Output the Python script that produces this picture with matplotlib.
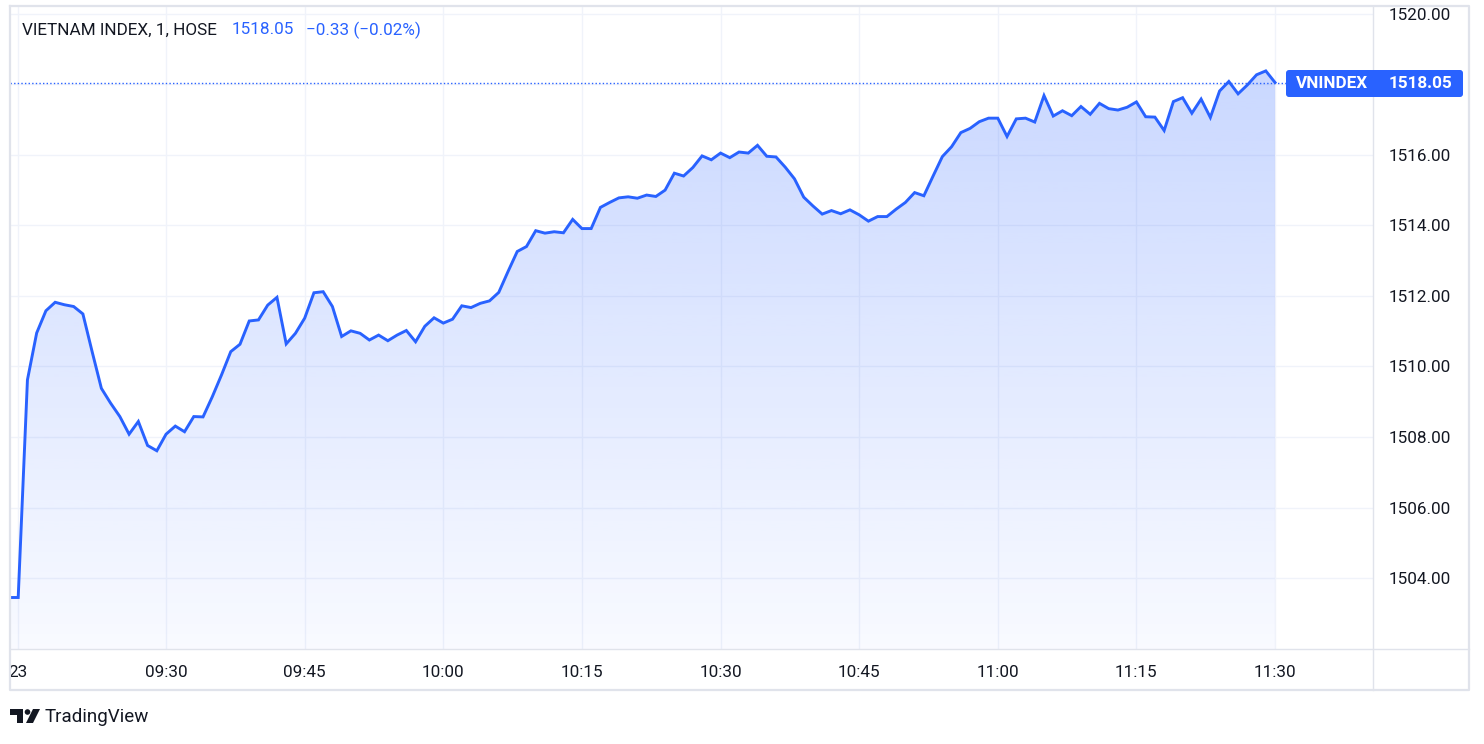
import numpy as np
import matplotlib
matplotlib.use("Agg")
import matplotlib.pyplot as plt
from matplotlib.patches import Polygon, FancyBboxPatch, Circle
from matplotlib.lines import Line2D
from matplotlib.transforms import Affine2D

# ---------------- data ----------------
symbol = "VNINDEX"
title_text = "VIETNAM INDEX, 1, HOSE"
last_price = 1518.05
change_text = "\u22120.33 (\u22120.02%)"
prev_close = 1503.45

# one bar for the opening auction (09:00) then 1-minute bars 09:15 .. 11:30
bar_times = ["09:00"] + [f"{9 + (15 + k) // 60:02d}:{(15 + k) % 60:02d}" for k in range(136)]

prices = [
    1503.45, 1509.62, 1510.95, 1511.58, 1511.82, 1511.75, 1511.70, 1511.49, 1510.42, 1509.38,
    1508.96, 1508.58, 1508.08, 1508.44, 1507.76, 1507.61, 1508.08, 1508.31, 1508.15, 1508.58,
    1508.57, 1509.14, 1509.76, 1510.42, 1510.63, 1511.29, 1511.32, 1511.74, 1511.96, 1510.64,
    1510.94, 1511.37, 1512.09, 1512.12, 1511.70, 1510.85, 1511.01, 1510.94, 1510.75, 1510.89,
    1510.73, 1510.89, 1511.02, 1510.70, 1511.14, 1511.38, 1511.23, 1511.34, 1511.72, 1511.67,
    1511.79, 1511.86, 1512.10, 1512.69, 1513.26, 1513.40, 1513.85, 1513.78, 1513.82, 1513.79,
    1514.17, 1513.91, 1513.91, 1514.51, 1514.65, 1514.78, 1514.81, 1514.77, 1514.86, 1514.82,
    1515.00, 1515.48, 1515.40, 1515.64, 1515.97, 1515.86, 1516.05, 1515.92, 1516.08, 1516.05,
    1516.27, 1515.96, 1515.94, 1515.65, 1515.32, 1514.80, 1514.55, 1514.32, 1514.42, 1514.33,
    1514.44, 1514.30, 1514.12, 1514.25, 1514.25, 1514.46, 1514.65, 1514.93, 1514.84, 1515.40,
    1515.95, 1516.23, 1516.63, 1516.75, 1516.94, 1517.04, 1517.04, 1516.52, 1517.02, 1517.04,
    1516.93, 1517.68, 1517.10, 1517.25, 1517.11, 1517.37, 1517.15, 1517.46, 1517.31, 1517.27,
    1517.35, 1517.50, 1517.08, 1517.07, 1516.69, 1517.51, 1517.62, 1517.18, 1517.58, 1517.06,
    1517.81, 1518.08, 1517.73, 1517.98, 1518.27, 1518.38, 1518.05,
]

time_tick_labels = ["23", "09:30", "09:45", "10:00", "10:15", "10:30", "10:45", "11:00", "11:15", "11:30"]
price_ticks = [1504, 1506, 1508, 1510, 1512, 1514, 1516, 1518, 1520]

# ---------------- style ----------------
BLUE = "#2962ff"
TXT = "#131722"
GRID = "#f0f3fa"
BORDER = "#e0e3eb"
W, H = 1484, 744
plt.rcParams["font.family"] = ["Roboto", "DejaVu Sans"]

fig = plt.figure(figsize=(W / 100, H / 100), dpi=100)
fig.patch.set_facecolor("white")
PX = Affine2D().scale(0.01, -0.01).translate(0, H / 100) + fig.dpi_scale_trans

# plot pane in pixel coordinates
L, T, R, B = 10, 6, 1373, 649
ax = fig.add_axes([L / W, 1 - B / H, (R - L) / W, (B - T) / H])
ax.set_facecolor("white")

x = np.arange(len(prices))
x_all = np.concatenate([[-1], x])
y_all = np.concatenate([[prev_close], prices])

ax.set_xlim(-0.887, 146.6)
ax.set_ylim(1501.99, 1520.22)

# ticks
tick_idx = [0] + [bar_times.index(t) for t in time_tick_labels[1:]]
ax.set_xticks(tick_idx)
ax.set_xticklabels(time_tick_labels)
ax.set_yticks(price_ticks)
ax.set_yticklabels(["" if v == 1518 else f"{v:.2f}" for v in price_ticks])
ax.yaxis.tick_right()
ax.tick_params(axis="x", length=0, pad=11.3, labelsize=12.3, colors=TXT)
ax.tick_params(axis="y", length=0, pad=11.5, labelsize=12.3, colors=TXT)
for s in ax.spines.values():
    s.set_visible(False)
ax.grid(True, color=GRID, lw=1.0, zorder=0)
ax.set_axisbelow(True)

# gradient area fill
ybot = ax.get_ylim()[0]
verts = list(zip(x_all, y_all)) + [(x_all[-1], ybot), (x_all[0], ybot)]
clip = Polygon(verts, closed=True, facecolor="none", edgecolor="none", transform=ax.transData)
ax.add_patch(clip)
n = 256
grad = np.zeros((n, 1, 4))
grad[:, 0, 0] = 41 / 255
grad[:, 0, 1] = 98 / 255
grad[:, 0, 2] = 1.0
grad[:, 0, 3] = np.linspace(0.25, 0.03, n)
im = ax.imshow(grad, extent=[x_all[0], x_all[-1], ybot, max(y_all)], aspect="auto",
               origin="upper", zorder=1, interpolation="bilinear")
im.set_clip_path(clip)

ax.plot(x_all, y_all, color=BLUE, lw=2.1, zorder=3, solid_joinstyle="miter")
# last price dotted line
ax.axhline(last_price, color=BLUE, lw=1.0, ls=(0, (1, 1.6)), zorder=2)

# ---------------- frame lines ----------------
def pline(xs, ys, **kw):
    fig.add_artist(Line2D(xs, ys, transform=PX, **kw))

pline([L, 1469, 1469, L, L], [T, T, 690, 690, T], color=BORDER, lw=1.6, zorder=2)
pline([R, R], [T, 690], color=BORDER, lw=1.0, zorder=2)
pline([L, 1469], [B, B], color=BORDER, lw=1.0, zorder=2)

# ---------------- header ----------------
fig.text(22, 30, title_text, transform=PX, fontsize=12.3, color=TXT, va="center", ha="left")
fig.text(232, 30, f"{last_price:.2f}", transform=PX, fontsize=12.3, color=BLUE, va="center", ha="left")
fig.text(306, 30, change_text, transform=PX, fontsize=12.3, color=BLUE, va="center", ha="left")

# ---------------- last price label ----------------
box = FancyBboxPatch((1286, 70), 177, 27, boxstyle="round,pad=0,rounding_size=3",
                     transform=PX, facecolor=BLUE, edgecolor="none", zorder=6)
fig.add_artist(box)
fig.text(1296, 83.5, symbol, transform=PX, fontsize=12.3, color="white", weight="bold",
         va="center", ha="left", zorder=7)
fig.text(1452, 83.5, f"{last_price:.2f}", transform=PX, fontsize=12.3, color="white",
         weight="bold", va="center", ha="right", zorder=7)

# ---------------- TradingView logo ----------------
fig.add_artist(Polygon([(10, 709), (23, 709), (23, 723), (17, 723), (17, 715), (10, 715)],
                       closed=True, transform=PX, facecolor=TXT, edgecolor="none"))
fig.add_artist(Circle((27.5, 712), 2.8, transform=PX, facecolor=TXT, edgecolor="none"))
fig.add_artist(Polygon([(33, 709), (40, 709), (33, 723), (26, 723)],
                       closed=True, transform=PX, facecolor=TXT, edgecolor="none"))
fig.text(45, 717, "TradingView", transform=PX, fontsize=13.5, color=TXT, va="center", ha="left")

fig.savefig("out.png", dpi=100, facecolor="white")
